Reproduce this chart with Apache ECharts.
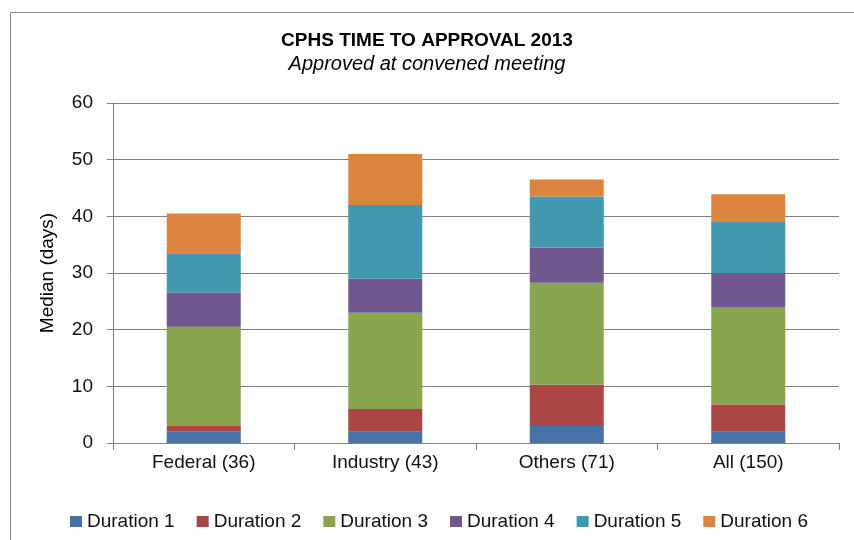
<!DOCTYPE html>
<html>
<head>
<meta charset="utf-8">
<script src="https://cdn.jsdelivr.net/npm/echarts@6/dist/echarts.min.js"></script>
<style>
  html, body { margin: 0; padding: 0; background: #fff; }
  #chart { width: 854px; height: 540px; }
</style>
</head>
<body>
<div id="chart"></div>
<script>
var categories = ['Federal (36)', 'Industry (43)', 'Others (71)', 'All (150)'];
var seriesNames = ['Duration 1', 'Duration 2', 'Duration 3', 'Duration 4', 'Duration 5', 'Duration 6'];
var duration1 = [2, 2, 3, 2];
var duration2 = [1, 4, 7.3, 4.8];
var duration3 = [17.5, 17, 18, 17.2];
var duration4 = [6, 6, 6.2, 6];
var duration5 = [7, 13, 9, 9];
var duration6 = [7, 9, 3, 4.9];
var yTicks = [0, 10, 20, 30, 40, 50, 60];
var colors = ['#4572A7', '#AA4643', '#89A54E', '#71588F', '#4198AF', '#DB843D'];

var font = 'Liberation Sans';
var myChart = echarts.init(document.getElementById('chart'));

var allData = [duration1, duration2, duration3, duration4, duration5, duration6];
var series = [];
for (var i = 0; i < allData.length; i++) {
    series.push({
        name: seriesNames[i],
        type: 'bar',
        stack: 'total',
        barWidth: 74,
        data: allData[i],
        itemStyle: { color: colors[i] }
    });
}

var option = {
    animation: false,
    color: colors,
    textStyle: { fontFamily: font },
    title: [{
        text: 'CPHS TIME TO APPROVAL 2013',
        left: 'center',
        top: 26,
        textStyle: { fontFamily: font, fontSize: 19, fontWeight: 'bold', color: '#000' }
    }, {
        text: 'Approved at convened meeting',
        left: 'center',
        top: 49,
        textStyle: { fontFamily: font, fontSize: 20, fontStyle: 'italic', fontWeight: 'normal', color: '#000' }
    }],
    graphic: [{
        type: 'rect',
        shape: { x: 10.5, y: 12.5, width: 900, height: 600 },
        style: { fill: 'none', stroke: '#8c8c8c', lineWidth: 1 },
        silent: true
    }],
    legend: {
        data: seriesNames,
        left: 65,
        top: 507,
        icon: 'rect',
        itemWidth: 12,
        itemHeight: 11,
        itemGap: 22,
        textStyle: { fontFamily: font, fontSize: 19, color: '#111' }
    },
    grid: {
        left: 113,
        right: 15,
        top: 103,
        bottom: 97
    },
    xAxis: {
        type: 'category',
        data: categories,
        axisLine: { lineStyle: { color: '#808080', width: 1 } },
        axisTick: { show: true, length: 7, lineStyle: { color: '#808080' } },
        axisLabel: { fontFamily: font, fontSize: 19, color: '#111', margin: 10 }
    },
    yAxis: {
        type: 'value',
        min: yTicks[0],
        max: yTicks[yTicks.length - 1],
        interval: 10,
        name: 'Median (days)',
        nameLocation: 'middle',
        nameGap: 56,
        nameTextStyle: { fontFamily: font, fontSize: 19, color: '#000' },
        axisLine: { show: true, lineStyle: { color: '#808080', width: 1 } },
        axisTick: { show: true, length: 6, lineStyle: { color: '#808080' } },
        axisLabel: { fontFamily: font, fontSize: 19, color: '#111', margin: 20 },
        splitLine: { show: true, lineStyle: { color: '#808080', width: 1 } }
    },
    series: series
};

myChart.setOption(option);
</script>
</body>
</html>
